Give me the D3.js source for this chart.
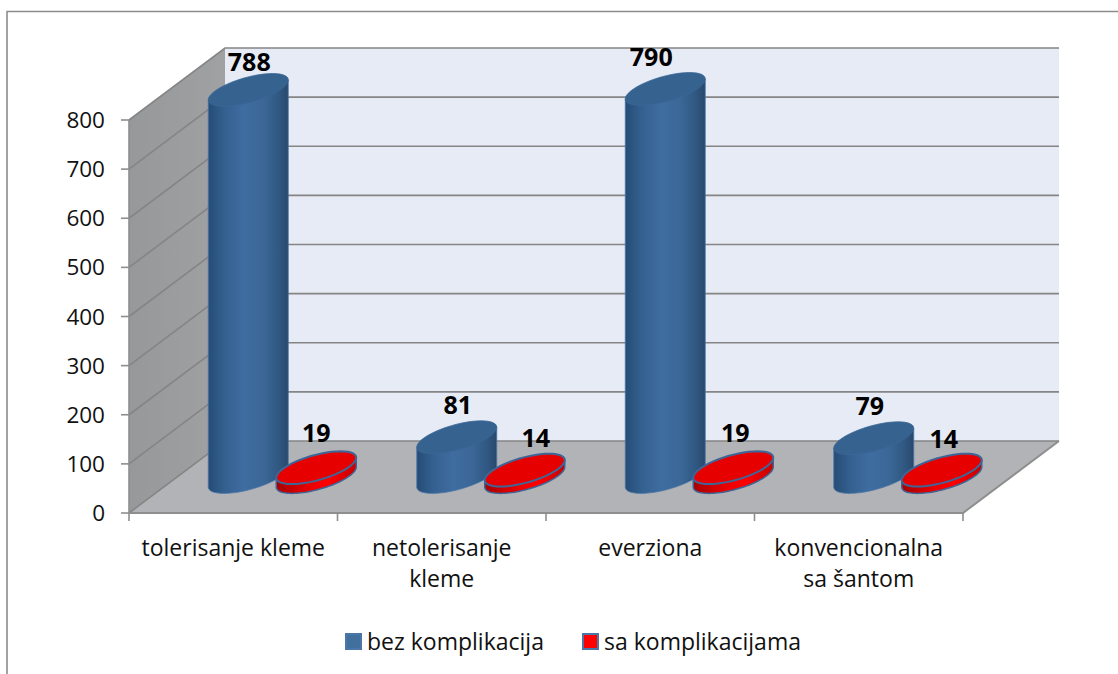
<!DOCTYPE html>
<html>
<head>
<meta charset="utf-8">
<script src="https://cdn.jsdelivr.net/npm/d3@7"></script>
<style>
  html, body { margin: 0; padding: 0; background: #fff; }
  text { font-family: "Open Sans", Lato, sans-serif; fill: #111; }
</style>
</head>
<body>
<div id="chart"></div>
<script>
var categories = [["tolerisanje kleme"], ["netolerisanje", "kleme"], ["everziona"], ["konvencionalna", "sa šantom"]];
var seriesNames = ["bez komplikacija", "sa komplikacijama"];
var bezKomplikacija = [788, 81, 790, 79];
var saKomplikacijama = [19, 14, 19, 14];
var yTicks = [0, 100, 200, 300, 400, 500, 600, 700, 800];

// hand placed data labels, the source chart moved them off the cylinder centre
var labelNudge = [
  [[1, -19], [1, -23], [-14, -23], [-4, -23]],
  [[0, -26], [11, -23], [2, -26], [2, -22]]
];

var width = 1118, height = 674;
var depthX = 96, depthY = -72;
var rx = 40, tiltY = 10, minorY = 13;

var svg = d3.select("#chart").append("svg")
  .attr("width", width).attr("height", height).style("display", "block");

// set the ranges
var x = d3.scaleBand().domain(d3.range(categories.length)).range([129, 963]);
var x1 = d3.scalePoint().domain([0, 1]).range([-33, 35]);
var y = d3.scaleLinear().domain([0, 800]).range([513, 120]);

var defs = svg.append("defs");
function sideGradient(id, stops) {
  var g = defs.append("linearGradient").attr("id", id);
  stops.forEach(function (s) {
    g.append("stop").attr("offset", s[0]).attr("stop-color", s[1]);
  });
}
sideGradient("blueSide", [[0, "#264c76"], [0.2, "#33608f"], [0.45, "#406da1"], [0.7, "#3a6796"], [0.9, "#2f567f"], [1, "#28486c"]]);
sideGradient("redSide", [[0, "#a80000"], [0.4, "#e80000"], [0.65, "#ff0000"], [1, "#c80000"]]);
sideGradient("wallGrad", [[0, "#97989a"], [1, "#a0a1a3"]]);

// frame
svg.append("path")
  .attr("d", "M7,674V11.5H1118")
  .attr("fill", "none").attr("stroke", "#8c8c8c").attr("stroke-width", 1.6);

var line = d3.line();

// walls and floor
var x0 = x.range()[0], xEnd = x.range()[1];
svg.append("path")
  .attr("d", line([[x0, y(0)], [x0, y(800)], [x0 + depthX, y(800) + depthY], [x0 + depthX, y(0) + depthY]]) + "Z")
  .attr("fill", "url(#wallGrad)");
svg.append("path")
  .attr("d", line([[x0 + depthX, y(0) + depthY], [x0 + depthX, y(800) + depthY], [xEnd + depthX, y(800) + depthY], [xEnd + depthX, y(0) + depthY]]) + "Z")
  .attr("fill", "#e7ebf5");
svg.append("path")
  .attr("d", line([[x0, y(0)], [x0 + depthX, y(0) + depthY], [xEnd + depthX, y(0) + depthY], [xEnd, y(0)]]) + "Z")
  .attr("fill", "#b1b3b6");

// gridlines on the walls
svg.selectAll(".grid").data(yTicks).enter().append("path")
  .attr("class", "grid")
  .attr("d", function (d) {
    return line([[x0, y(d)], [x0 + depthX, y(d) + depthY], [xEnd + depthX, y(d) + depthY]]);
  })
  .attr("fill", "none").attr("stroke", "#858585").attr("stroke-width", 1.6);

// front edge of the floor
svg.append("path")
  .attr("d", line([[x0, y(0)], [xEnd, y(0)], [xEnd + depthX, y(0) + depthY]]))
  .attr("fill", "none").attr("stroke", "#8e8e8e").attr("stroke-width", 2);
svg.append("path")
  .attr("d", line([[x0, y(0)], [x0, y(800)]]))
  .attr("fill", "none").attr("stroke", "#8e8e8e").attr("stroke-width", 1.6);

// ticks
svg.selectAll(".ytick").data(yTicks).enter().append("line")
  .attr("x1", x0 - 8).attr("x2", x0)
  .attr("y1", function (d) { return y(d); }).attr("y2", function (d) { return y(d); })
  .attr("stroke", "#8e8e8e").attr("stroke-width", 1.6);
svg.selectAll(".xtick").data(d3.range(categories.length + 1)).enter().append("line")
  .attr("x1", function (i) { return x0 + i * x.bandwidth(); })
  .attr("x2", function (i) { return x0 + i * x.bandwidth(); })
  .attr("y1", y(0)).attr("y2", y(0) + 8)
  .attr("stroke", "#8e8e8e").attr("stroke-width", 1.6);

// tick labels
svg.selectAll(".ylabel").data(yTicks).enter().append("text")
  .attr("x", x0 - 24).attr("y", function (d) { return y(d) + 8; })
  .attr("text-anchor", "end").attr("font-size", 22.5)
  .text(function (d) { return d; });
var catLabels = svg.selectAll(".xlabel").data(categories).enter().append("text")
  .attr("text-anchor", "middle").attr("font-size", 23);
catLabels.selectAll("tspan").data(function (d, i) {
  return d.map(function (t, k) { return { t: t, k: k, i: i }; });
}).enter().append("tspan")
  .attr("x", function (d) { return x(d.i) + x.bandwidth() / 2; })
  .attr("y", function (d) { return 556 + d.k * 31; })
  .text(function (d) { return d.t; });

// ellipse outline points around a centre, tilted like the 3d projection
function ringPoints(cx, cy, from, to) {
  return d3.range(0, 49).map(function (n) {
    var t = from + (to - from) * n / 48;
    return [cx + rx * Math.cos(t), cy - tiltY * Math.cos(t) + minorY * Math.sin(t)];
  });
}

function drawCylinder(i, s, value) {
  var cx = x(i) + x.bandwidth() / 2 + depthX / 2 + x1(s);
  var base = y(value) + depthY / 2, floorY = y(0) + depthY / 2;
  var isBlue = s === 0;
  var bottom = ringPoints(cx, floorY, 0, Math.PI);
  var side = [[cx + rx, base - tiltY]].concat(bottom, [[cx - rx, base + tiltY]]);
  var g = svg.append("g");
  g.append("path")
    .attr("d", line(side) + "Z")
    .attr("fill", isBlue ? "url(#blueSide)" : "url(#redSide)")
    .attr("stroke", isBlue ? "#4a76a8" : "#3f6597")
    .attr("stroke-width", isBlue ? 0.8 : 1.5);
  g.append("path")
    .attr("d", line(ringPoints(cx, base, 0, 2 * Math.PI)) + "Z")
    .attr("fill", isBlue ? "#36628f" : "#e60000")
    .attr("stroke", isBlue ? "#3a6797" : "#3f6597")
    .attr("stroke-width", isBlue ? 0.8 : 2);
  return { cx: cx, top: base };
}

// cylinders and data labels
[bezKomplikacija, saKomplikacijama].forEach(function (values, s) {
  values.forEach(function (v, i) {
    var c = drawCylinder(i, s, v);
    svg.append("text")
      .attr("x", c.cx + labelNudge[s][i][0])
      .attr("y", c.top + labelNudge[s][i][1])
      .attr("text-anchor", "middle")
      .attr("font-size", 25).attr("font-weight", 700)
      .style("fill", "#000")
      .text(v);
  });
});

// legend
var legendX = [345, 582];
var legendFill = ["#41709f", "#ff0000"];
seriesNames.forEach(function (name, s) {
  svg.append("rect")
    .attr("x", legendX[s] + 1).attr("y", 634).attr("width", 15).attr("height", 15)
    .attr("fill", legendFill[s]).attr("stroke", "#4a76a8").attr("stroke-width", 2);
  svg.append("text")
    .attr("x", legendX[s] + 22).attr("y", 650)
    .attr("font-size", 23)
    .text(name);
});
</script>
</body>
</html>
